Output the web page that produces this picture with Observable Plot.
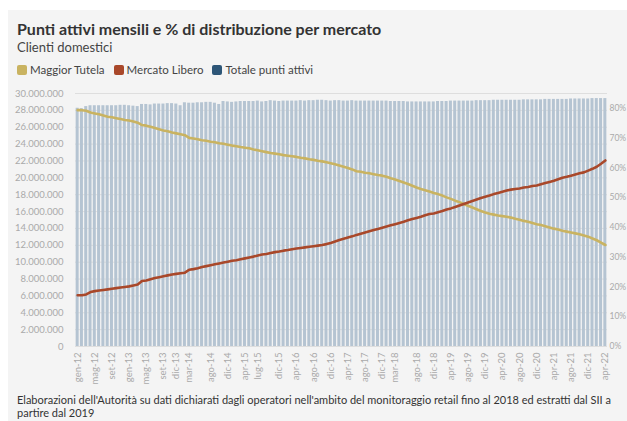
<!DOCTYPE html>
<html>
<head>
<meta charset="utf-8">
<script src="https://cdn.jsdelivr.net/npm/d3@7"></script>
<script src="https://cdn.jsdelivr.net/npm/@observablehq/plot@0.6"></script>
<style>
  html, body { margin: 0; padding: 0; background: #fff; width: 627px; height: 421px; overflow: hidden; }
  #panel { position: absolute; left: 8px; top: 10px; width: 619px; height: 411px; background: #f4f4f4; }
  .t { position: absolute; font-family: Lato, "Noto Sans", sans-serif; white-space: nowrap; }
  #title { left: 17px; top: 20px; font-size: 16px; line-height: 17px; font-weight: 700; color: #333; }
  #subtitle { left: 17px; top: 39.5px; font-size: 13px; line-height: 15px; color: #444; }
  #legend { left: 17px; top: 63px; font-size: 11.5px; color: #444; display: flex; align-items: center; }
  #legend .sw { display: inline-block; width: 10px; height: 10px; border-radius: 2px; margin-right: 3px; }
  #legend .it { display: flex; align-items: center; margin-right: 9px; }
  #caption { left: 17px; top: 393px; font-size: 11px; color: #333; line-height: 13px; }
  #chart { position: absolute; left: 0; top: 88px; }
</style>
</head>
<body>
<div id="panel"></div>
<div class="t" id="title">Punti attivi mensili e % di distribuzione per mercato</div>
<div class="t" id="subtitle">Clienti domestici</div>
<div class="t" id="legend"></div>
<div class="t" id="caption">Elaborazioni dell'Autorità su dati dichiarati dagli operatori nell'ambito del monitoraggio retail fino al 2018 ed estratti dal SII a<br>partire dal 2019</div>
<div id="chart"></div>
<script>
const monthNames = ["gen","feb","mar","apr","mag","giu","lug","ago","set","ott","nov","dic"];
const periods = [];
for (let y = 12; y <= 22; y++) {
  for (let m = 0; m < 12; m++) {
    if (y === 22 && m > 3) break;
    periods.push(monthNames[m] + "-" + y);
  }
}

const tickLabels = ["gen-12","mag-12","set-12","gen-13","mag-13","set-13","dic-13","mar-14","ago-14","dic-14",
  "apr-15","lug-15","dic-15","apr-16","ago-16","dic-16","apr-17","ago-17","dic-17","mar-18","ago-18","dic-18",
  "apr-19","ago-19","dic-19","apr-20","ago-20","dic-20","apr-21","ago-21","dic-21","apr-22"];

// Totale punti attivi (milioni)
const totale = [
  28.25, 28.2, 28.45, 28.55, 28.55, 28.55, 28.55, 28.55, 28.55, 28.55,
  28.6, 28.6, 28.55, 28.5, 28.45, 28.7, 28.7, 28.65, 28.75, 28.75,
  28.75, 28.8, 28.8, 28.75, 28.55, 28.9, 28.85, 28.85, 28.9, 28.9,
  28.95, 28.95, 28.85, 28.7, 29.05, 29.0, 28.95, 29.0, 29.05, 29.05,
  29.05, 29.05, 29.1, 29.0, 29.05, 29.15, 29.1, 29.05, 29.1, 29.1,
  29.1, 29.1, 29.15, 29.1, 29.15, 29.15, 29.2, 29.2, 29.15, 29.1,
  29.15, 29.15, 29.1, 29.1, 29.15, 29.1, 29.1, 29.1, 29.1, 29.1,
  29.1, 29.1, 29.1, 29.05, 29.05, 29.05, 29.05, 29.0, 29.0, 29.0,
  29.0, 29.0, 29.0, 29.0, 29.05, 29.05, 29.05, 29.1, 29.1, 29.1,
  29.1, 29.1, 29.1, 29.15, 29.15, 29.15, 29.15, 29.2, 29.2, 29.2,
  29.2, 29.2, 29.2, 29.2, 29.25, 29.25, 29.25, 29.25, 29.25, 29.3,
  29.3, 29.3, 29.3, 29.3, 29.3, 29.35, 29.35, 29.35, 29.35, 29.35,
  29.4, 29.4, 29.4, 29.4
];

// Maggior Tutela (%)
const maggiorTutela = [
  79.4, 79.4, 79.2, 78.6, 78.3, 78.0, 77.6, 77.2, 77.0, 76.7,
  76.4, 76.1, 75.9, 75.6, 75.2, 74.4, 74.2, 73.8, 73.4, 73.0,
  72.6, 72.3, 71.9, 71.6, 71.3, 71.0, 70.1, 69.9, 69.6, 69.3,
  69.1, 68.8, 68.6, 68.3, 68.1, 67.8, 67.5, 67.3, 67.0, 66.8,
  66.6, 66.2, 65.9, 65.6, 65.3, 65.0, 64.8, 64.6, 64.3, 64.1,
  63.9, 63.7, 63.4, 63.2, 62.9, 62.7, 62.4, 62.2, 61.9, 61.6,
  61.2, 60.8, 60.4, 60.0, 59.5, 58.9, 58.7, 58.4, 58.2, 57.9,
  57.6, 57.4, 57.0, 56.5, 56.1, 55.6, 55.1, 54.6, 54.0, 53.4,
  52.9, 52.5, 52.1, 51.6, 51.2, 50.7, 50.1, 49.6, 49.0, 48.5,
  47.9, 47.3, 46.7, 46.1, 45.5, 45.0, 44.6, 44.3, 44.0, 43.8,
  43.6, 43.3, 42.9, 42.6, 42.2, 41.9, 41.5, 41.1, 40.8, 40.4,
  40.0, 39.6, 39.3, 38.9, 38.6, 38.3, 38.0, 37.7, 37.3, 36.9,
  36.3, 35.7, 34.9, 34.1
];

// Mercato Libero (%)
const mercatoLibero = [
  17.2, 17.2, 17.5, 18.3, 18.6, 18.8, 19.0, 19.2, 19.4, 19.6,
  19.8, 20.0, 20.2, 20.5, 20.8, 22.0, 22.2, 22.6, 23.0, 23.3,
  23.6, 23.9, 24.2, 24.4, 24.6, 24.8, 25.8, 26.0, 26.3, 26.7,
  27.0, 27.3, 27.6, 27.9, 28.2, 28.5, 28.8, 29.0, 29.3, 29.6,
  29.9, 30.2, 30.6, 30.9, 31.1, 31.4, 31.7, 31.9, 32.2, 32.4,
  32.7, 32.9, 33.1, 33.3, 33.5, 33.7, 33.9, 34.1, 34.4, 34.8,
  35.3, 35.8, 36.2, 36.6, 37.0, 37.5, 37.9, 38.3, 38.7, 39.1,
  39.5, 39.9, 40.3, 40.7, 41.1, 41.5, 41.9, 42.4, 42.8, 43.2,
  43.6, 44.1, 44.5, 44.7, 45.1, 45.5, 46.0, 46.4, 46.9, 47.4,
  47.9, 48.4, 48.9, 49.4, 49.9, 50.3, 50.7, 51.2, 51.6, 52.0,
  52.4, 52.7, 52.9, 53.1, 53.4, 53.6, 53.9, 54.1, 54.5, 54.9,
  55.3, 55.7, 56.2, 56.7, 57.0, 57.4, 57.8, 58.2, 58.5, 59.1,
  59.7, 60.4, 61.4, 62.5
];

const series = ["Maggior Tutela", "Mercato Libero", "Totale punti attivi"];
const colors = ["#c9b361", "#a9482a", "#2d5677"];

const leftTicks = [0, 2e6, 4e6, 6e6, 8e6, 10e6, 12e6, 14e6, 16e6, 18e6, 20e6, 22e6, 24e6, 26e6, 28e6, 30e6];
const pctTicks = [0, 10, 20, 30, 40, 50, 60, 70, 80];

// legend
const leg = document.getElementById("legend");
series.forEach((s, i) => {
  const it = document.createElement("span");
  it.className = "it";
  it.innerHTML = `<span class="sw" style="background:${colors[i]}"></span>${s}`;
  leg.appendChild(it);
});

const rows = periods.map((p, i) => ({
  period: p,
  totale: totale[i] * 1e6,
  mt: maggiorTutela[i],
  ml: mercatoLibero[i]
}));

const yMax = 30e6;
const pctMax = 85; // % value at the top of the left axis
const k = yMax / pctMax;

const loc = d3.formatLocale({decimal: ",", thousands: ".", grouping: [3], currency: ["", "€"]});
const fmt = loc.format(",");

const chart = Plot.plot({
  width: 627,
  height: 302,
  marginLeft: 75,
  marginRight: 20,
  marginTop: 5,
  marginBottom: 44,
  style: {background: "transparent", fontFamily: "Lato, 'Noto Sans', sans-serif", fontSize: "9.5px", color: "#aaa"},
  x: {type: "band", domain: periods, paddingInner: 0.3, paddingOuter: 0.15, label: null},
  y: {domain: [0, yMax], label: null},
  marks: [
    Plot.gridY({ticks: leftTicks, stroke: "#dedede", strokeOpacity: 1}),
    Plot.barY(rows, {x: "period", y: "totale", fill: "#b5c4d2"}),
    Plot.lineY(rows, {x: "period", y: d => d.mt * k, stroke: colors[0], strokeWidth: 2.6}),
    Plot.lineY(rows, {x: "period", y: d => d.ml * k, stroke: colors[1], strokeWidth: 2.6}),
    Plot.axisY({anchor: "left", ticks: leftTicks, tickFormat: fmt, tickSize: 0, tickPadding: 12, fill: "#aaa"}),
    Plot.axisY({anchor: "right", ticks: pctTicks.map(p => p * k), tickFormat: d => Math.round(d / k) + "%", tickSize: 0, tickPadding: 2, fill: "#aaa", fontSize: 8.5}),
    Plot.axisX({ticks: tickLabels, tickRotate: -90, tickSize: 0, tickPadding: 6, fill: "#aaa"})
  ]
});
document.getElementById("chart").appendChild(chart);
</script>
</body>
</html>
